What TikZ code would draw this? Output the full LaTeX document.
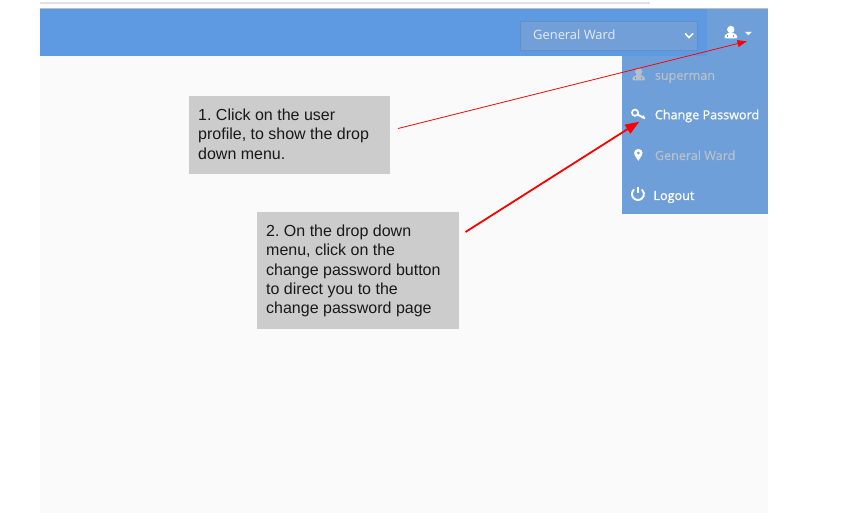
\documentclass[tikz,border=0pt]{standalone}
\usepackage{fontspec}
\setmainfont{Liberation Sans}
\newfontfamily\uifont{Open Sans}
\newfontfamily\menufont[FakeBold=0.7]{Open Sans}
\usetikzlibrary{arrows.meta}
\definecolor{barblue}{HTML}{5E9AE2}
\definecolor{menublue}{HTML}{6F9FD8}
\definecolor{selectblue}{HTML}{729FD8}
\definecolor{pagegray}{HTML}{FAFAFA}
\definecolor{notegray}{HTML}{CCCCCC}
\definecolor{dimtext}{HTML}{B4C0CE}
\tikzset{
    note/.style={fill=notegray, inner sep=0pt, anchor=north west},
    notetext/.style={anchor=north west, inner sep=0pt, align=left, font=\fontsize{16}{19.4}\selectfont\frenchspacing, text=black!90},
    menuitem/.style={anchor=base west, inner sep=0pt, font=\menufont\fontsize{12.6}{14}\selectfont},
    pointer/.style={red, -{Stealth[inset=0pt, length=#1*2.6, width=#1*1.9]}},
}
\begin{document}
\begin{tikzpicture}[x=1pt, y=-1pt]
    \useasboundingbox (0,0) rectangle (857,513);
    \fill[white] (0,0) rectangle (857,513);
    \fill[black!12] (40,2) rectangle (650,3.8);
    \fill[black!25] (40,8) rectangle (768,9);
    \fill[pagegray] (40,56) rectangle (768,513);
    \fill[barblue] (40,9) rectangle (768,56);
    \fill[menublue] (707,9) rectangle (768,56);
    \fill[menublue] (621.5,56) rectangle (768,214.5);
    \fill[selectblue, draw=barblue!85!black!90] (520.5,21) rectangle (697,50);

    \node[anchor=base west, inner sep=0pt, font=\uifont\fontsize{12.9}{14}\selectfont, text=white!80!menublue] (wardselect) at (533,40) {General Ward};
    \draw[white, line width=1.6pt, line cap=round] (685.5,33.8) -- (689,37.6) -- (692.7,33.8);

    \fill[white] (730.8,29.5) circle (3.7);
    \fill[white, rounded corners=1pt] (724.5,38.3) -- (724.5,35.5) -- (728,33) -- (733.6,33) -- (737.2,35.5) -- (737.2,38.3) -- cycle;
    \draw[menublue, line width=0.5pt] (727.5,37.5) -- (727.5,35) (733.5,37.5) -- (733.5,35);
    \fill[white] (745,31.8) -- (751.8,31.8) -- (748.4,35.2) -- cycle;
    \coordinate (usericon) at (746.8,41.3);

    \fill[dimtext] (638.7,71.8) circle (3.6);
    \fill[dimtext, rounded corners=1pt] (632.3,80.3) -- (632.3,77.5) -- (636,75) -- (641.4,75) -- (645,77.5) -- (645,80.3) -- cycle;
    \draw[menublue, line width=0.5pt] (635.3,79.5) -- (635.3,77) (641.5,79.5) -- (641.5,77);
    \node[menuitem, text=dimtext] (superman) at (654.7,79.8) {superman};

    \draw[white, line width=1.7pt] (635,112.7) circle (3.1);
    \draw[white, line width=2pt] (637.5,114.5) -- (645,118.5);
    \draw[white, line width=1.3pt] (642.8,117.5) -- (644,115.6);
    \node[menuitem, text=white] (changepw) at (654.7,119.3) {Change Password};
    \coordinate (keyicon) at (639.3,121.7);

    \fill[white, even odd rule] (638.3,160.8) .. controls (635.8,156.8) and (634,155) .. (634,152.8) .. controls (634,150.6) and (636,149) .. (638.3,149) .. controls (640.6,149) and (642.6,150.6) .. (642.6,152.8) .. controls (642.6,155) and (640.8,156.8) .. (638.3,160.8) -- cycle (638.3,153) circle (1.7);
    \node[menuitem, text=dimtext] (generalward) at (654.7,160) {General Ward};

    \draw[white, line width=1.9pt] (634.1,189.4) arc[start angle=-130, end angle=-410, radius=6];
    \draw[white, line width=1.9pt] (638,187) -- (638,193);
    \node[menuitem, text=white] (logout) at (653.3,200) {Logout};

    \node[note, minimum width=201pt, minimum height=77.5pt] (noteonebox) at (189.2,96) {};
    \node[notetext] (noteone) at (198,108.5) {1. Click on the user\\profile, to show the drop\\down menu.};
    \coordinate (noteoneend) at (398,128.5);

    \node[note, minimum width=201.5pt, minimum height=116.5pt] (notetwobox) at (256.8,212) {};
    \node[notetext] (notetwo) at (266,224.5) {2. On the drop down\\menu, click on the\\change password button\\to direct you to the\\change password page};
    \coordinate (notetwoend) at (465.5,232);

    \draw[pointer=3.6pt, line width=0.8pt] (noteoneend) -- (usericon);
    \draw[pointer=5.4pt, line width=1.8pt] (notetwoend) -- (keyicon);
\end{tikzpicture}
\end{document}
